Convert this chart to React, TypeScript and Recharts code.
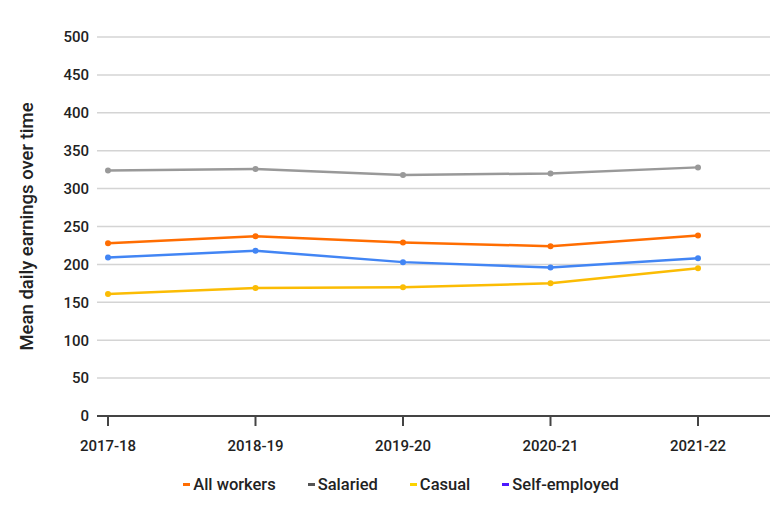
import { LineChart, Line, XAxis, YAxis, CartesianGrid, Legend, Label } from 'recharts'

const years = ['2017-18', '2018-19', '2019-20', '2020-21', '2021-22']
const allWorkers = [228, 237, 229, 224, 238]
const salaried = [324, 326, 318, 320, 328]
const casual = [161, 169, 170, 175, 195]
const selfEmployed = [209, 218, 203, 196, 208]
const yTicks = [0, 50, 100, 150, 200, 250, 300, 350, 400, 450, 500]

const LEGEND = [
  { name: 'All workers', color: '#ff6d01' },
  { name: 'Salaried', color: '#555555' },
  { name: 'Casual', color: '#fbd300' },
  { name: 'Self-employed', color: '#4b17ff' },
]

const FONT = 'Roboto, "DejaVu Sans", sans-serif'

const data = years.map((year, i) => ({
  year,
  all: allWorkers[i],
  salaried: salaried[i],
  casual: casual[i],
  self: selfEmployed[i],
}))

function LegendContent() {
  return (
    <div style={{ display: 'flex', justifyContent: 'center', gap: 32, fontFamily: FONT, fontSize: 16.5, fontWeight: 500, color: '#222', paddingLeft: 32 }}>
      {LEGEND.map((item) => (
        <div key={item.name} style={{ display: 'flex', alignItems: 'center', gap: 3 }}>
          <span style={{ display: 'inline-block', width: 7, height: 3, background: item.color }} />
          <span>{item.name}</span>
        </div>
      ))}
    </div>
  )
}

export default function App() {
  return (
    <div style={{ position: 'absolute', left: 0, top: 0, width: 784, height: 507, background: '#fff' }}>
      <LineChart width={784} height={507} data={data} margin={{ top: 37, right: 14, bottom: 0, left: 0 }}>
        <CartesianGrid vertical={false} stroke="#d4d4d4" strokeWidth={1.5} />
        <XAxis
          dataKey="year"
          padding={{ left: 11, right: 72 }}
          stroke="#444"
          strokeWidth={2}
          tickSize={10}
          tickMargin={14}
          height={72}
          tick={{ fill: '#222', fontSize: 15, fontWeight: 500, fontFamily: FONT }}
        />
        <YAxis
          domain={[0, 500]}
          ticks={yTicks}
          width={97}
          axisLine={false}
          tickLine={false}
          tickSize={0}
          tickMargin={8}
          tick={{ fill: '#222', fontSize: 15, fontWeight: 500, fontFamily: FONT }}
        >
          <Label
            value="Mean daily earnings over time"
            angle={-90}
            position="insideLeft"
            offset={26}
            style={{ fill: '#222', fontSize: 18.5, fontWeight: 500, fontFamily: FONT, textAnchor: 'middle' }}
          />
        </YAxis>
        <Legend verticalAlign="bottom" wrapperStyle={{ bottom: 13 }} content={() => <LegendContent />} />
        <Line dataKey="salaried" stroke="#999999" strokeWidth={2.5} dot={{ r: 3, fill: '#999999', strokeWidth: 0 }} isAnimationActive={false} />
        <Line dataKey="all" stroke="#ff6d01" strokeWidth={2.5} dot={{ r: 3, fill: '#ff6d01', strokeWidth: 0 }} isAnimationActive={false} />
        <Line dataKey="self" stroke="#4285f4" strokeWidth={2.5} dot={{ r: 3, fill: '#4285f4', strokeWidth: 0 }} isAnimationActive={false} />
        <Line dataKey="casual" stroke="#fbbc04" strokeWidth={2.5} dot={{ r: 3, fill: '#fbbc04', strokeWidth: 0 }} isAnimationActive={false} />
      </LineChart>
    </div>
  )
}
